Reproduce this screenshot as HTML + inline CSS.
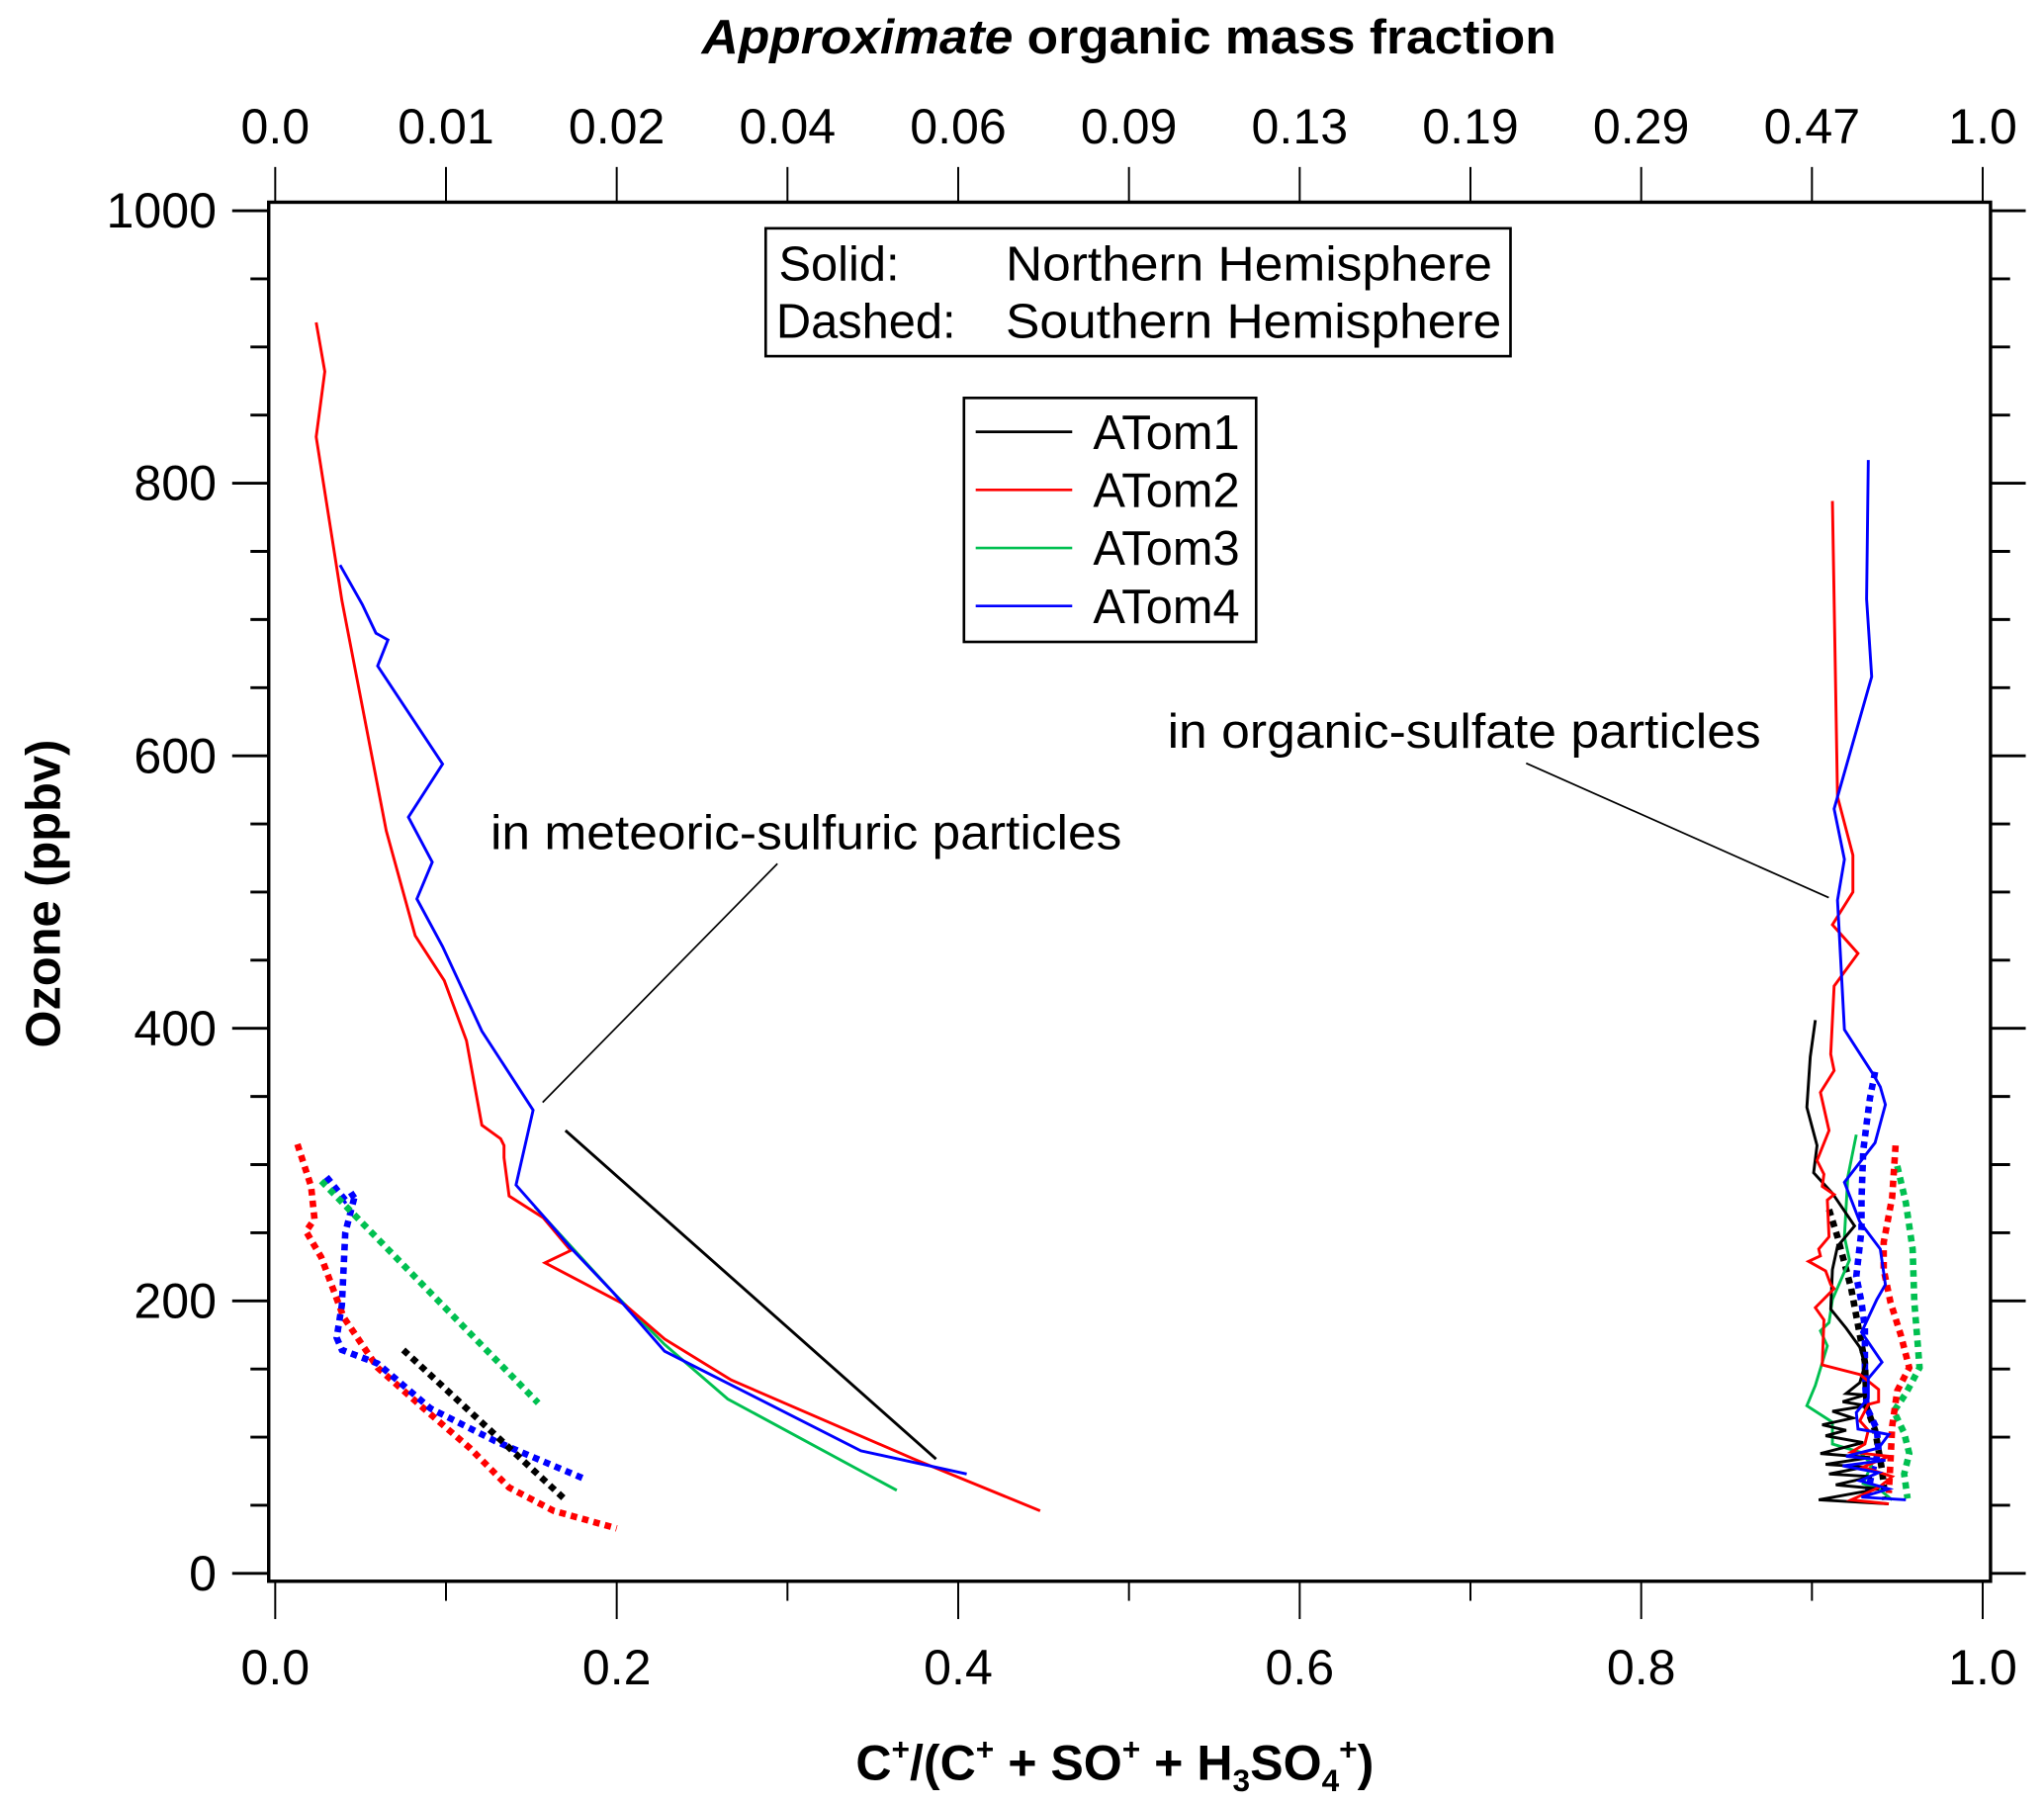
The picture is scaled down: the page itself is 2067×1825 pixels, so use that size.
<!DOCTYPE html>
<html><head><meta charset="utf-8"><style>
html,body{margin:0;padding:0;background:#fff}
svg{display:block}
text{font-family:"Liberation Sans",Arial,sans-serif;fill:#000}
</style></head><body>
<svg id="chart" width="2067" height="1825" viewBox="0 0 1567 1383.5" preserveAspectRatio="none" xmlns="http://www.w3.org/2000/svg">
<rect x="0" y="0" width="1567" height="1383.5" fill="#fff"/>
<g id="axes"></g>
<g id="series"></g>
<text x="538" y="41" textLength="655" lengthAdjust="spacingAndGlyphs" font-size="37" font-weight="bold"><tspan font-style="italic">Approximate</tspan> organic mass fraction</text>
<text x="656" y="1364" font-size="38" font-weight="bold">C<tspan dy="-15" font-size="24">+</tspan><tspan dy="15">/(C</tspan><tspan dy="-15" font-size="24">+</tspan><tspan dy="15"> + SO</tspan><tspan dy="-15" font-size="24">+</tspan><tspan dy="15"> + H</tspan><tspan dy="9" font-size="24">3</tspan><tspan dy="-9">SO</tspan><tspan dy="9" font-size="24">4</tspan><tspan dy="-24" font-size="24">+</tspan><tspan dy="15">)</tspan></text>
<text transform="translate(46,685) rotate(-90)" text-anchor="middle" font-size="37" font-weight="bold">Ozone (ppbv)</text>
<g>
<rect x="587" y="175" width="571" height="98" fill="#fff" stroke="#000" stroke-width="2"/>
<text x="597" y="215" font-size="37">Solid:</text><text x="771" y="215" font-size="37" textLength="373" lengthAdjust="spacingAndGlyphs">Northern Hemisphere</text>
<text x="595" y="259" font-size="37">Dashed:</text><text x="771" y="259" font-size="37" textLength="380" lengthAdjust="spacingAndGlyphs">Southern Hemisphere</text>
</g>
<g id="legend">
<rect x="739" y="305" width="224" height="187" fill="#fff" stroke="#000" stroke-width="2"/>
</g>
<text x="376" y="651" font-size="37" textLength="484" lengthAdjust="spacingAndGlyphs">in meteoric-sulfuric particles</text>
<line x1="416" y1="845" x2="596" y2="662" stroke="#000" stroke-width="1.3"/>
<text x="895" y="573" font-size="37" textLength="455" lengthAdjust="spacingAndGlyphs">in organic-sulfate particles</text>
<line x1="1170" y1="585" x2="1402" y2="688" stroke="#000" stroke-width="1.3"/>
</svg>
<script>
const xTicks=[0,0.1,0.2,0.3,0.4,0.5,0.6,0.7,0.8,0.9,1.0];
const xTickLabels=["0.0","0.2","0.4","0.6","0.8","1.0"];
const topTickLabels=["0.0","0.01","0.02","0.04","0.06","0.09","0.13","0.19","0.29","0.47","1.0"];
const yTicks=[0,50,100,150,200,250,300,350,400,450,500,550,600,650,700,750,800,850,900,950,1000];
const yTickLabels=["0","200","400","600","800","1000"];
const seriesNames=["ATom1","ATom2","ATom3","ATom4"];
const seriesColors=["#000000","#ff0000","#00c050","#0000ff"];
// [fraction, ozone]
const atom2NH=[[.024,918],[.029,882],[.024,834],[.039,714],[.065,545],[.082,468],[.099,435],[.112,391],[.121,329],[.132,319],[.134,314],[.134,305],[.137,277],[.157,261],[.173,237],[.158,228],[.205,197],[.228,172],[.267,142],[.374,84],[.448,46]];
const atom4NH=[[.038,740],[.051,711],[.059,690],[.066,685],[.060,666],[.098,594],[.078,555],[.092,522],[.083,495],[.098,460],[.121,398],[.151,340],[.141,285],[.160,258],[.173,239],[.198,206],[.228,163],[.343,90],[.405,73]];
const atom3NH=[[.152,269],[.198,206],[.228,168],[.265,128],[.364,61]];
const atom1NH=[[.170,325],[.387,84]];
const atom2SH=[[.013,315],[.021,284],[.023,260],[.018,251],[.027,232],[.040,188],[.060,151],[.087,121],[.114,92],[.137,63],[.163,46],[.200,33]];
const atom4SH=[[.030,291],[.041,274],[.047,279],[.041,250],[.039,197],[.036,173],[.039,164],[.060,154],[.091,121],[.129,97],[.180,70]];
const atom3SH=[[.027,288],[.154,125]];
const atom1SH=[[.075,164],[.170,54]];
const atom4NHorg=[[.933,817],[.932,715],[.935,658],[.913,561],[.919,524],[.915,494],[.919,399],[.936,366],[.940,357],[.943,344],[.937,316],[.919,287],[.928,258],[.940,238],[.943,212],[.938,201],[.929,177],[.941,155],[.933,143],[.933,129],[.926,118],[.927,106],[.945,102],[.939,92],[.920,86],[.943,83],[.918,79],[.939,74],[.928,68],[.945,62],[.929,56],[.955,54]];
const atom2NHorg=[[.912,787],[.915,570],[.924,527],[.924,500],[.912,476],[.927,455],[.913,431],[.911,381],[.913,369],[.905,353],[.910,325],[.903,303],[.907,293],[.906,284],[.913,278],[.909,274],[.910,247],[.904,238],[.905,233],[.898,229],[.908,222],[.911,212],[.913,209],[.902,195],[.907,186],[.906,153],[.928,146],[.939,135],[.939,126],[.933,124],[.928,112],[.933,105],[.931,95],[.923,89],[.945,86],[.930,78],[.947,71],[.939,63],[.923,54],[.945,51]];
const atom1NHorg=[[.902,406],[.899,379],[.897,342],[.903,314],[.901,294],[.912,279],[.925,255],[.915,240],[.912,223],[.911,194],[.920,180],[.928,166],[.931,153],[.928,140],[.920,132],[.931,131],[.918,126],[.932,123],[.912,119],[.924,114],[.906,109],[.920,105],[.908,101],[.930,96],[.905,88],[.934,85],[.908,80],[.931,78],[.910,73],[.935,71],[.914,65],[.939,62],[.904,54],[.945,51]];
const atom3NHorg=[[.926,322],[.921,291],[.919,247],[.922,230],[.912,201],[.910,184],[.905,178],[.909,167],[.902,138],[.897,123],[.912,111],[.912,95],[.928,89],[.935,80],[.930,66],[.939,62],[.947,54]];
const atom4SHorg=[[.937,368],[.934,349],[.932,330],[.930,310],[.929,274],[.929,252],[.926,218],[.929,199],[.931,180],[.931,143],[.932,122],[.938,106],[.939,90],[.935,73],[.932,55]];
const atom1SHorg=[[.910,267],[.915,247],[.919,228],[.923,209],[.928,175],[.931,155],[.932,122],[.937,105],[.941,76],[.943,54]];
const atom2SHorg=[[.949,314],[.947,276],[.942,243],[.942,223],[.946,199],[.952,175],[.957,151],[.950,134],[.947,108],[.946,82],[.945,59]];
const atom3SHorg=[[.950,299],[.955,272],[.959,238],[.960,199],[.962,167],[.963,151],[.955,132],[.948,119],[.954,103],[.957,88],[.954,73],[.956,55]];

const NS="http://www.w3.org/2000/svg";
const X=f=>211+f*1309;
const Y=v=>1206-v*1.0445;
function mk(tag,attrs,parent){const e=document.createElementNS(NS,tag);for(const k in attrs)e.setAttribute(k,attrs[k]);parent.appendChild(e);return e;}
const axes=document.getElementById('axes');
const frame=mk('rect',{x:206,y:155,width:1320,height:1057,fill:'none',stroke:'#000','stroke-width':2.6},axes);


xTicks.forEach((t,i)=>{
  const major=i%2===0;
  const b=mk('line',{x1:X(t),x2:X(t),y1:1212,y2:major?1241:1227,stroke:'#000','stroke-width':1.5},axes);
  
  
  const tp=mk('line',{x1:X(t),x2:X(t),y1:128,y2:155,stroke:'#000','stroke-width':1.5},axes);
  
  
  const tl=mk('text',{x:X(t),y:110,'text-anchor':'middle','font-size':38},axes);
  tl.textContent=topTickLabels[i];
  
  
  if(major){
    const l=mk('text',{x:X(t),y:1291,'text-anchor':'middle','font-size':38},axes);
    l.textContent=xTickLabels[i/2];
    
    
  }
});
yTicks.forEach((t,i)=>{
  const major=i%4===0;
  const a=mk('line',{x1:major?178:192,x2:206,y1:Y(t),y2:Y(t),stroke:'#000','stroke-width':2.2},axes);
  
  
  const r=mk('line',{x1:1526,x2:major?1553:1541,y1:Y(t),y2:Y(t),stroke:'#000','stroke-width':2.2},axes);
  
  
  if(major){
    const l=mk('text',{x:166,y:Y(t)+13,'text-anchor':'end','font-size':38},axes);
    l.textContent=yTickLabels[i/4];
    
    
  }
});
const sg=document.getElementById('series');
function draw(data,ci,dashed,name){
  const p=mk('polyline',{points:data.map(d=>X(d[0]).toFixed(1)+','+Y(d[1]).toFixed(1)).join(' '),fill:'none',stroke:seriesColors[ci],'stroke-width':dashed?5:2.2,'stroke-linejoin':'miter'},sg);
  if(dashed)p.setAttribute('stroke-dasharray','5,4');
  
  
}
draw(atom1NH,0,false,'atom1-nh-meteoric');
draw(atom3NH,2,false,'atom3-nh-meteoric');
draw(atom2NH,1,false,'atom2-nh-meteoric');
draw(atom4NH,3,false,'atom4-nh-meteoric');
draw(atom2SH,1,true,'atom2-sh-meteoric');
draw(atom4SH,3,true,'atom4-sh-meteoric');
draw(atom3SH,2,true,'atom3-sh-meteoric');
draw(atom1SH,0,true,'atom1-sh-meteoric');
draw(atom3SHorg,2,true,'atom3-sh-organic');
draw(atom2SHorg,1,true,'atom2-sh-organic');
draw(atom1SHorg,0,true,'atom1-sh-organic');
draw(atom4SHorg,3,true,'atom4-sh-organic');
draw(atom3NHorg,2,false,'atom3-nh-organic');
draw(atom1NHorg,0,false,'atom1-nh-organic');
draw(atom2NHorg,1,false,'atom2-nh-organic');
draw(atom4NHorg,3,false,'atom4-nh-organic');
const lg=document.getElementById('legend');
seriesNames.forEach((n,i)=>{
  const y=331+i*44.5;
  const l=mk('line',{x1:748,x2:822,y1:y,y2:y,stroke:seriesColors[i],'stroke-width':2},lg);
  
  
  const t=mk('text',{x:838,y:y+13,'font-size':37},lg);
  t.textContent=n;
  
  
});
</script>
</body></html>
